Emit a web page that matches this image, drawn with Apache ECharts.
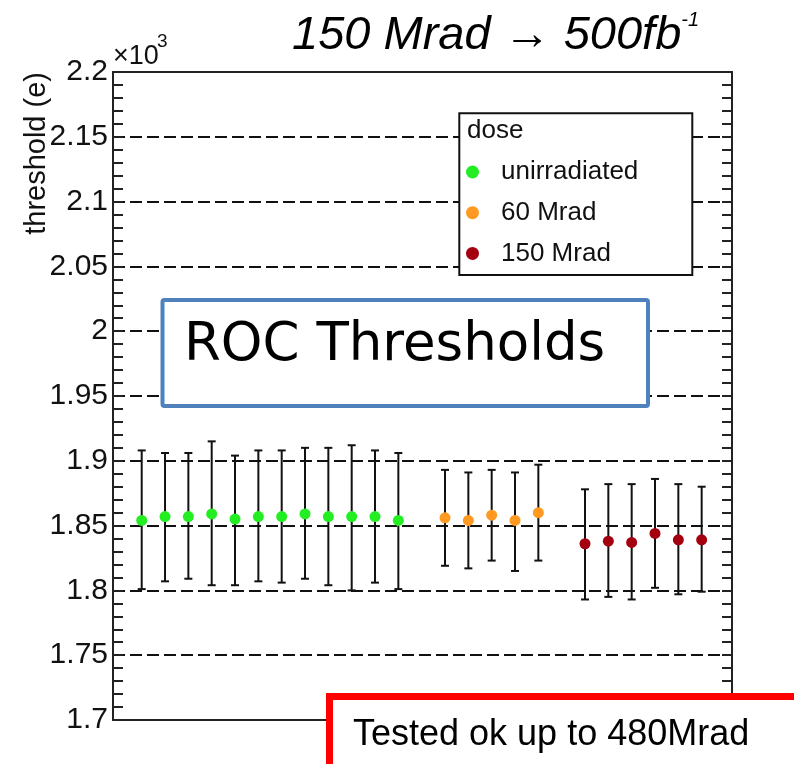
<!DOCTYPE html>
<html>
<head>
<meta charset="utf-8">
<script src="https://cdn.jsdelivr.net/npm/echarts@6/dist/echarts.min.js"></script>
<style>html,body{margin:0;padding:0;background:#fff}#c{width:794px;height:764px}</style>
</head>
<body>
<div id="c"></div>
<script>
// ---- data (threshold in electrons) ----
const seriesNames = ['unirradiated', '60 Mrad', '150 Mrad'];
const greenX = [0, 1, 2, 3, 4, 5, 6, 7, 8, 9, 10, 11];
const greenY = [1854, 1857, 1857, 1859, 1855, 1857, 1857, 1859, 1857, 1857, 1857, 1854];
const greenHi = [1908, 1906, 1906, 1915, 1904, 1908, 1908, 1910, 1910, 1912, 1908, 1906];
const greenLo = [1801, 1807, 1809, 1804, 1804, 1807, 1806, 1809, 1804, 1800, 1806, 1801];
const orangeX = [13, 14, 15, 16, 17];
const orangeY = [1856, 1854, 1858, 1854, 1860];
const orangeHi = [1893, 1891, 1893, 1891, 1897];
const orangeLo = [1819, 1817, 1823, 1815, 1823];
const redX = [19, 20, 21, 22, 23, 24];
const redY = [1836, 1838, 1837, 1844, 1839, 1839];
const redHi = [1878, 1882, 1882, 1886, 1882, 1880];
const redLo = [1793, 1795, 1793, 1802, 1797, 1799];
const yMin = 1700, yMax = 2200, yStep = 50;

const colors = ['#22ee22', '#ff9922', '#a50010'];
const FONT = '"Liberation Sans", Arial, sans-serif';

function pts(xs, ys) { return xs.map((x, i) => [x, ys[i]]); }
function bars(xs, lo, hi) { return xs.map((x, i) => [x, lo[i], hi[i]]); }

function errRender(params, api) {
  const x = api.value(0);
  const lo = api.coord([x, api.value(1)]);
  const hi = api.coord([x, api.value(2)]);
  const cw = 4;
  const st = { stroke: '#111', lineWidth: 2 };
  return {
    type: 'group',
    children: [
      { type: 'line', shape: { x1: lo[0], y1: lo[1], x2: hi[0], y2: hi[1] }, style: st },
      { type: 'line', shape: { x1: hi[0] - cw, y1: hi[1], x2: hi[0] + cw, y2: hi[1] }, style: st },
      { type: 'line', shape: { x1: lo[0] - cw, y1: lo[1], x2: lo[0] + cw, y2: lo[1] }, style: st }
    ]
  };
}

const groups = [
  [greenX, greenY, greenLo, greenHi],
  [orangeX, orangeY, orangeLo, orangeHi],
  [redX, redY, redLo, redHi]
];

const series = [];
groups.forEach((g, k) => {
  series.push({
    type: 'custom', renderItem: errRender, data: bars(g[0], g[2], g[3]),
    encode: { x: 0, y: [1, 2] }, z: 2, silent: true
  });
});
groups.forEach((g, k) => {
  series.push({
    type: 'scatter', name: seriesNames[k], data: pts(g[0], g[1]),
    symbol: 'circle', symbolSize: 11, z: 3,
    itemStyle: { color: colors[k], opacity: 1 }
  });
});

const axisLine = { show: true, onZero: false, lineStyle: { color: '#222', width: 2 } };
const tickStyle = { color: '#222', width: 2 };

const chart = echarts.init(document.getElementById('c'), null, { renderer: 'canvas' });
chart.setOption({
  animation: false,
  backgroundColor: '#fff',
  grid: { left: 113, right: 62, top: 72, bottom: 44, containLabel: false },
  xAxis: [
    { type: 'value', min: -1.23, max: 25.3, position: 'bottom', axisLine: axisLine,
      axisTick: { show: false }, axisLabel: { show: false }, splitLine: { show: false } },
    { type: 'value', min: -1.23, max: 25.3, position: 'top', axisLine: axisLine,
      axisTick: { show: false }, axisLabel: { show: false }, splitLine: { show: false } }
  ],
  yAxis: [
    { type: 'value', min: yMin, max: yMax, interval: yStep, position: 'left',
      axisLine: axisLine,
      axisTick: { show: true, inside: true, length: 10, lineStyle: tickStyle },
      minorTick: { show: true, splitNumber: 5, length: 10, lineStyle: tickStyle },
      axisLabel: { fontSize: 30, fontFamily: FONT, color: '#111', margin: 5,
        formatter: v => String(+(v / 1000).toFixed(2)) },
      splitLine: { show: true, lineStyle: { color: '#111', width: 2, type: [12, 5] } }
    },
    { type: 'value', min: yMin, max: yMax, interval: yStep, position: 'right',
      axisLine: axisLine,
      axisTick: { show: true, inside: true, length: 10, lineStyle: tickStyle },
      minorTick: { show: true, splitNumber: 5, length: 10, lineStyle: tickStyle },
      axisLabel: { show: false }, splitLine: { show: false }
    }
  ],
  legend: {
    data: seriesNames, orient: 'vertical', left: 466, top: 159,
    padding: 0, itemWidth: 47, itemHeight: 13, itemGap: 14.7, icon: 'circle',
    symbolKeepAspect: true, z: 5,
    textStyle: { fontSize: 26, lineHeight: 26, fontFamily: FONT, color: '#111' }
  },
  series: series,
  graphic: [
    { type: 'rect', z: 3, shape: { x: 459.3, y: 113.3, width: 233, height: 161.7 },
      style: { fill: '#fff', stroke: '#111', lineWidth: 2 } },
    { type: 'text', z: 4, x: 467, y: 131,
      style: { text: 'dose', font: '26px ' + FONT, fill: '#111', align: 'left', verticalAlign: 'middle' } },
    { type: 'rect', z: 3, shape: { x: 162.5, y: 300, width: 485.5, height: 106, r: 2 },
      style: { fill: '#fff', stroke: '#4f81bd', lineWidth: 4 } },
    { type: 'text', z: 4, x: 184, y: 346,
      style: { text: 'ROC Thresholds', font: '53px "DejaVu Sans", sans-serif', fill: '#000',
        align: 'left', verticalAlign: 'middle' } },
    { type: 'text', z: 4, x: 37, y: 72, rotation: Math.PI / 2,
      style: { text: 'threshold (e)', font: '29px ' + FONT, fill: '#111',
        align: 'right', verticalAlign: 'middle' } },
    { type: 'text', z: 4, x: 113, y: 57,
      style: { text: '×10', font: '27px ' + FONT, fill: '#111', align: 'left', verticalAlign: 'middle' } },
    { type: 'text', z: 4, x: 157, y: 42,
      style: { text: '3', font: '19px ' + FONT, fill: '#111', align: 'left', verticalAlign: 'middle' } },
    { type: 'text', z: 4, x: 292, y: 10,
      style: {
        text: '{a|150 Mrad → 500fb}{s|-1}',
        align: 'left', verticalAlign: 'top', fill: '#000',
        rich: {
          a: { fontSize: 47, lineHeight: 52, fontStyle: 'italic', fontFamily: FONT, fill: '#000', color: '#000' },
          s: { fontSize: 20, lineHeight: 40, verticalAlign: 'top', fontStyle: 'italic', fontFamily: FONT, fill: '#000', color: '#000' }
        }
      } },
    { type: 'rect', z: 10, shape: { x: 329.5, y: 696.5, width: 520, height: 120 },
      style: { fill: '#fff', stroke: '#ff0000', lineWidth: 7 } },
    { type: 'text', z: 11, x: 353, y: 735,
      style: { text: 'Tested ok up to 480Mrad', font: '36px ' + FONT, fill: '#000',
        align: 'left', verticalAlign: 'middle' } }
  ]
});
</script>
</body>
</html>
